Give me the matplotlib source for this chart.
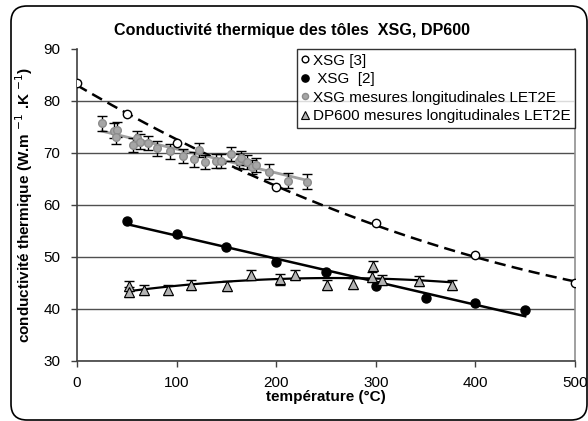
import numpy as np
import matplotlib
matplotlib.use('Agg')
import matplotlib.pyplot as plt
from matplotlib.patches import FancyBboxPatch
from matplotlib.transforms import IdentityTransform

plt.rcParams['font.family'] = ['Liberation Sans', 'DejaVu Sans']

# XSG [3] - open circles, dashed trend
t_ref3 = [0, 50, 100, 200, 300, 400, 500]
k_ref3 = [83.5, 77.5, 72.0, 63.5, 56.5, 50.3, 45.0]

# XSG [2] - filled circles, linear trend
t_ref2 = [50, 100, 150, 200, 250, 300, 350, 400, 450]
k_ref2 = [57.0, 54.5, 52.0, 49.0, 47.1, 44.4, 42.2, 41.2, 39.8]

# XSG longitudinal measurements LET2E
t_xsg = [25, 37, 40, 39, 56, 60, 63, 71, 80, 93, 106, 117, 122, 129, 140,
         145, 155, 163, 165, 171, 176, 180, 193, 212, 231]
k_xsg = [75.7, 74.3, 74.5, 73.1, 71.5, 72.9, 72.2, 71.9, 70.9, 70.3, 69.4,
         68.8, 70.6, 68.3, 68.5, 68.5, 69.8, 68.5, 69.0, 68.3, 67.3, 67.7,
         66.4, 64.7, 64.5]
err_xsg = 1.4

# DP600 longitudinal measurements LET2E
t_dp = [52, 52, 67, 91, 114, 151, 175, 204, 219, 251, 277, 297, 296, 306, 343, 377]
k_dp = [44.4, 43.3, 43.6, 43.6, 44.6, 44.4, 46.5, 45.7, 46.5, 44.6, 44.9,
        48.3, 46.2, 45.6, 45.4, 44.6]
err_dp = 1.0

labels = ['XSG [3]', ' XSG  [2]', 'XSG mesures longitudinales LET2E',
          'DP600 mesures longitudinales LET2E']

fig = plt.figure(figsize=(5.88, 4.21), dpi=100)
ax = fig.add_axes([77/588, 1 - 361/421, 498/588, 312/421])

# trend lines (excel-style fits)
xx = np.linspace(0, 500, 200)
ax.plot(xx, np.polyval(np.polyfit(t_ref3, k_ref3, 2), xx), color='black',
        lw=1.8, dashes=(4.5, 2.5), zorder=2)
xx = np.linspace(50, 450, 50)
ax.plot(xx, np.polyval(np.polyfit(t_ref2, k_ref2, 1), xx), color='black', lw=1.8, zorder=2)
xx = np.linspace(25, 231, 50)
ax.plot(xx, np.polyval(np.polyfit(t_xsg, k_xsg, 1), xx), color='#a0a0a0', lw=2, zorder=2)
xx = np.linspace(52, 377, 100)
ax.plot(xx, np.polyval(np.polyfit(t_dp, k_dp, 2), xx), color='black', lw=1.6, zorder=2)

# points
h1, = ax.plot(t_ref3, k_ref3, 'o', ms=6, mfc='white', mec='black', mew=1, zorder=4)
h2, = ax.plot(t_ref2, k_ref2, 'o', ms=6.5, mfc='black', mec='black', zorder=4)
ax.errorbar(t_xsg, k_xsg, yerr=err_xsg, fmt='none', ecolor='black', elinewidth=1,
            capsize=3.5, capthick=1, zorder=3)
h3, = ax.plot(t_xsg, k_xsg, 'o', ms=5.5, mfc='#a6a6a6', mec='#8c8c8c', zorder=4)
ax.errorbar(t_dp, k_dp, yerr=err_dp, fmt='none', ecolor='black', elinewidth=1,
            capsize=3.5, capthick=1, zorder=3)
h4, = ax.plot(t_dp, k_dp, '^', ms=7.5, mfc='#b3b3b3', mec='black', mew=0.8, zorder=4)

ax.set_xlim(0, 500)
ax.set_ylim(30, 90)
ax.set_xticks([0, 100, 200, 300, 400, 500])
ax.set_yticks([30, 40, 50, 60, 70, 80, 90])
ax.tick_params(direction='out', length=4, width=1, labelsize=11, color='#404040')
ax.tick_params(axis='x', pad=7)
ax.tick_params(axis='y', pad=8)

ax.yaxis.grid(True, color='#505050', lw=1)
ax.get_ygridlines()[-1].set_visible(False)
ax.set_axisbelow(True)

ax.spines['top'].set_visible(False)
ax.spines['left'].set_color('#404040')
ax.spines['bottom'].set_color('#404040')
ax.spines['right'].set_color('#909090')
for s in ax.spines.values():
    s.set_linewidth(1.2)

fig.text(292/588, 1 - 30/421, 'Conductivité thermique des tôles  XSG, DP600',
         fontsize=11.6, fontweight='bold', ha='center', va='center')
ax.set_xlabel('température (°C)', fontsize=11, fontweight='bold', labelpad=0)
ax.set_ylabel(r'conductivité thermique (W.m $^{-1}$ .K $^{-1}$)', fontsize=11,
              fontweight='bold', labelpad=6)

leg = ax.legend([h1, h2, h3, h4], labels,
                loc='upper right', bbox_to_anchor=(1.0, 1.0), borderaxespad=0,
                fontsize=11, frameon=True, fancybox=False, handlelength=0.5,
                handletextpad=0.25, labelspacing=0.3, borderpad=0.3,
                markerscale=0.8)
leg.get_frame().set_edgecolor('black')
leg.get_frame().set_linewidth(1)

# rounded frame around the whole chart
border = FancyBboxPatch((11, 1), 576, 414, boxstyle='round,pad=0,rounding_size=16',
                        transform=IdentityTransform(), fill=False,
                        edgecolor='black', lw=1.2)
fig.add_artist(border)

fig.savefig('out.png', dpi=100)
